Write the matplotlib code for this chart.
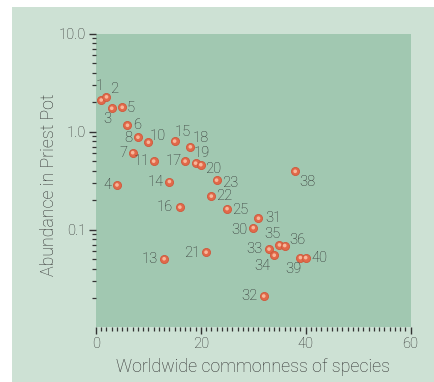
import matplotlib
matplotlib.use("Agg")
import matplotlib.pyplot as plt
from matplotlib.patches import Rectangle
from matplotlib.ticker import LogLocator, FixedLocator, MultipleLocator, NullFormatter

# ---- data ----
species = [1, 2, 3, 4, 5, 6, 7, 8, 10, 11, 13, 14, 15, 16, 17, 18, 19, 20,
           21, 22, 23, 25, 30, 31, 32, 33, 34, 35, 36, 38, 39, 40]
commonness = [1, 2, 3, 4, 5, 6, 7, 8, 10, 11, 13, 14, 15, 16, 17, 18, 19, 20,
              21, 22, 23, 25, 30, 31, 32, 33, 34, 35, 36, 38, 39, 40]
abundance = [2.1, 2.26, 1.73, 0.286, 1.77, 1.16, 0.61, 0.877, 0.78, 0.50,
             0.0506, 0.31, 0.80, 0.17, 0.50, 0.70, 0.477, 0.46,
             0.059, 0.22, 0.32, 0.164, 0.105, 0.131, 0.0211, 0.0635, 0.055,
             0.070, 0.069, 0.394, 0.052, 0.052]
y_ticks = [0.1, 1.0, 10.0]
y_ticklabels = ["0.1", "1.0", "10.0"]
x_ticks = [0, 20, 40, 60]

# label placement (pixel offsets, alignment)
label_style = {
    1: (-2, 14, "center"), 2: (4, 7.6, "left"), 3: (-4.6, -10.4, "center"),
    4: (-6, 0, "right"), 5: (4.3, -1, "left"), 6: (5.6, 0.6, "left"),
    7: (-5, -0.7, "right"), 8: (-6, -0.7, "right"), 10: (1.3, 6.3, "left"),
    11: (-3.5, 0, "right"), 13: (-6, -0.6, "right"), 14: (-5.4, 0, "right"),
    15: (0, 9, "left"), 16: (-6.7, 0, "right"), 17: (-3.6, 0, "right"),
    18: (2.4, 8.4, "left"), 19: (-2, 10.3, "left"), 20: (4.7, -4, "left"),
    21: (-5.7, -0.7, "right"), 22: (5, 0, "left"), 23: (5.4, -2.7, "left"),
    25: (5, -1.6, "left"), 30: (-5.4, -2.3, "right"), 31: (6.6, 0, "left"),
    32: (-6.3, 0, "right"), 33: (-6, 0, "right"), 34: (-11.7, -11, "center"),
    35: (-7.3, 10.7, "center"), 36: (4.4, 5.4, "left"), 38: (4, -11, "left"),
    39: (-7, -11.6, "center"), 40: (5.3, -0.6, "left"),
}

TXT = "#2f2f2f"
plt.rcParams["font.family"] = ["Roboto", "DejaVu Sans"]
plt.rcParams["font.weight"] = "light"

W, H = 434, 382
fig = plt.figure(figsize=(W / 100, H / 100), dpi=100, facecolor="white")
fig.patches.append(Rectangle((12 / W, 0), 1 - 12 / W, 1 - 7 / H,
                             transform=fig.transFigure, facecolor="#cde1d4",
                             edgecolor="none", zorder=-10))

ax = fig.add_axes([96 / W, 1 - 327 / H, (410.5 - 96) / W, (327 - 33.5) / H])
ax.set_zorder(5)
ax.set_facecolor("#a1c8b1")
for s in ax.spines.values():
    s.set_visible(False)

ax.scatter(commonness, abundance, s=34, color="#e2694a", edgecolors="#cf583b",
           linewidths=0.6, zorder=3)
ax.scatter(commonness, abundance, s=7, color="#f7b79a", edgecolors="none",
           zorder=4)

for sp, xv, yv in zip(species, commonness, abundance):
    dx, dy, ha = label_style[sp]
    ax.annotate(str(sp), (xv, yv), xytext=(dx, dy), textcoords="offset pixels",
                ha=ha, va="center", fontsize=10.6, color=TXT, zorder=5)

ax.set_yscale("log")
ax.set_ylim(0.0102, 10.0)
ax.set_xlim(0, 60)
ax.yaxis.set_major_locator(FixedLocator(y_ticks))
ax.set_yticklabels(y_ticklabels)
ax.yaxis.set_minor_locator(LogLocator(base=10, subs=range(2, 10)))
ax.yaxis.set_minor_formatter(NullFormatter())
ax.xaxis.set_major_locator(FixedLocator(x_ticks))
ax.xaxis.set_minor_locator(MultipleLocator(1))

ax.tick_params(axis="both", which="major", direction="out", length=5,
               width=1.0, color="#333333", labelsize=10.6, labelcolor=TXT, pad=2)
ax.tick_params(axis="both", which="minor", direction="out", length=3,
               width=0.9, color="#333333")
ax.tick_params(axis="y", which="major", pad=2)

fig.text(253 / W, 1 - 367 / H, "Worldwide commonness of species",
         ha="center", va="center", fontsize=12.8, color=TXT)
fig.text(49 / W, 1 - 185 / H, "Abundance in Priest Pot", rotation=90,
         ha="center", va="center", fontsize=12.8, color=TXT)

fig.savefig("out.png", dpi=100, facecolor="white")
